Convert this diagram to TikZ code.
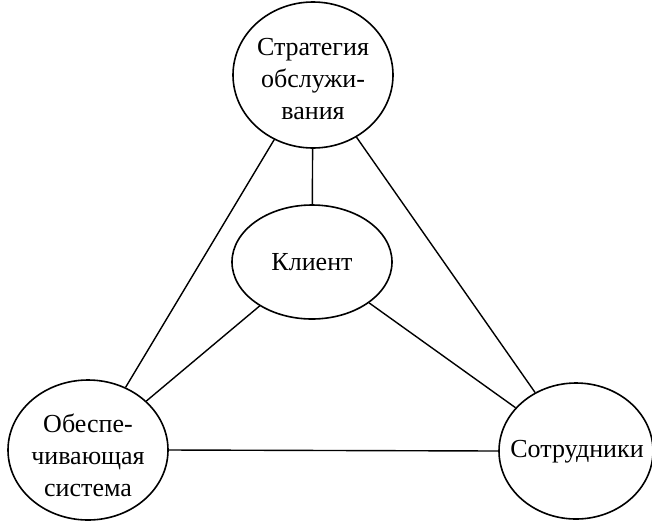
\documentclass[tikz,border=0pt]{standalone}
\usepackage{fontspec}
\setmainfont{Liberation Serif}
\usetikzlibrary{shapes.geometric}
\begin{document}
\begin{tikzpicture}[x=1pt,y=-1pt,
  ell/.style={ellipse,draw,line width=1.6pt,inner sep=0pt},
  lbl/.style={inner sep=0pt,align=center,font=\fontsize{26}{32}\selectfont},
  link/.style={line width=1.4pt}]
\useasboundingbox (0,0) rectangle (652,520);
\node[ell,minimum width=160,minimum height=146] (s) at (313,75) {};
\node[ell,minimum width=160,minimum height=114] (k) at (312,262) {};
\node[ell,minimum width=160,minimum height=140] (o) at (88,450) {};
\node[ell,minimum width=154,minimum height=136] (c) at (576,451) {};
\node[lbl] (st) at (313,79) {Стратегия\\обслужи-\\вания};
\node[lbl] (kt) at (312,262) {Клиент};
\node[lbl] (ot) at (88,455) {Обеспе-\\чивающая\\система};
\node[lbl] (ct) at (577,452) {Сотрудники};
\draw[link] (s) -- (o);
\draw[link] (s) -- (c);
\draw[link] (s) -- (k);
\draw[link] (k) -- (o);
\draw[link] (k) -- (c);
\draw[link] (o.east) -- (c.west);
\end{tikzpicture}
\end{document}
